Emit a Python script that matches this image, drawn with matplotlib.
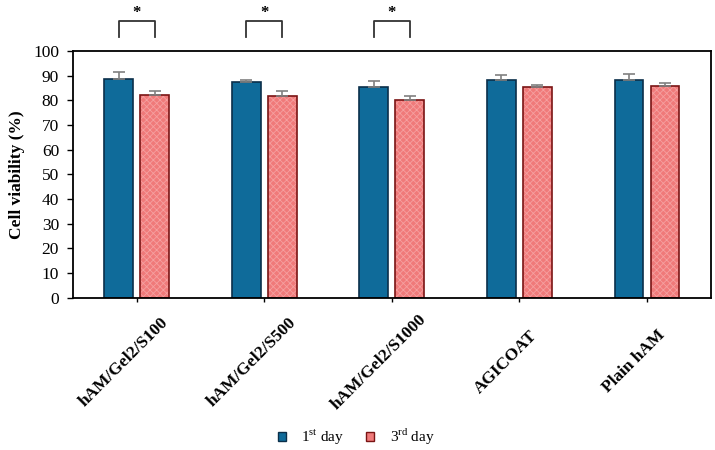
import matplotlib
matplotlib.use("Agg")
import matplotlib.pyplot as plt
import matplotlib.transforms as mtransforms
from matplotlib.patches import Patch
import numpy as np

categories = ["hAM/Gel2/S100", "hAM/Gel2/S500", "hAM/Gel2/S1000", "AGICOAT", "Plain hAM"]
day1 = [88.5, 87.3, 85.4, 88.1, 88.3]
day1_err = [3.1, 1.0, 2.4, 2.1, 2.4]
day3 = [82.1, 81.9, 80.2, 85.4, 85.8]
day3_err = [1.5, 1.9, 1.5, 0.7, 1.0]
sig_pairs = [0, 1, 2]

plt.rcParams['font.family'] = ['Liberation Serif', 'DejaVu Serif']
plt.rcParams['mathtext.fontset'] = 'custom'
plt.rcParams['mathtext.rm'] = 'Liberation Serif'
plt.rcParams['hatch.linewidth'] = 0.6

fig = plt.figure(figsize=(7.15, 4.5), dpi=100)
ax = fig.add_axes([0.102, 0.338, 0.892, 0.549])

x = np.arange(len(categories))
w = 0.225
off = 0.141
blue = '#0f6b9a'
red = '#f07a7a'

ax.bar(x - off, day1, w, color=blue, edgecolor='#0b2f4a', linewidth=1.2, zorder=2)
ax.errorbar(x - off, day1, yerr=[np.zeros(5), day1_err], fmt='none', ecolor='#808080',
            capsize=4, elinewidth=1.2, capthick=1.2, zorder=3)
ax.bar(x + off, day3, w, color=red, edgecolor='#f5a0a0', hatch='xxxxx', linewidth=0, zorder=2)
ax.bar(x + off, day3, w, fill=False, edgecolor='#7a1414', linewidth=1.2, zorder=2)
ax.errorbar(x + off, day3, yerr=[np.zeros(5), day3_err], fmt='none', ecolor='#808080',
            capsize=4, elinewidth=1.2, capthick=1.2, zorder=3)

ax.set_xlim(-0.5, len(categories) - 0.5)
ax.set_ylim(0, 100)
ax.set_yticks(np.arange(0, 101, 10))
ax.tick_params(axis='y', labelsize=12.5, length=4, width=1, pad=6)
ax.set_xticks(x)
ax.set_xticklabels([])
ax.tick_params(axis='x', length=3, width=1)
for s in ax.spines.values():
    s.set_linewidth(1.3)
ax.set_ylabel("Cell viability (%)", fontsize=12.5, fontweight='bold', labelpad=6)

lab_trans = mtransforms.blended_transform_factory(ax.transData, ax.transAxes) + \
    mtransforms.ScaledTranslation(-13 / 100, -64 / 100, fig.dpi_scale_trans)
for i, c in enumerate(categories):
    ax.text(i, 0, c, transform=lab_trans, rotation=45, ha='center', va='center',
            rotation_mode='anchor', fontsize=12.5, fontweight='bold', clip_on=False)

for i in sig_pairs:
    x0, x1 = i - off, i + off
    y0, y1 = 105.5, 112.0
    ax.plot([x0, x0, x1, x1], [y0, y1, y1, y0], color='#333333', lw=1.3,
            clip_on=False, solid_joinstyle='round')
    ax.text(i, 115.5, "*", ha='center', va='center', fontsize=12, fontweight='bold',
            clip_on=False)

h1 = Patch(facecolor=blue, edgecolor='#0b2f4a', linewidth=1.0)
h2 = Patch(facecolor=red, edgecolor='#7a1414', linewidth=1.0)
fig.legend([h1, h2], ["1$^{\\mathrm{st}}$ day", "3$^{\\mathrm{rd}}$ day"], loc='center',
           ncol=2, frameon=False, fontsize=11, handlelength=0.55, handleheight=0.55,
           handletextpad=1.0, columnspacing=1.4, bbox_to_anchor=(0.498, 0.029))

fig.savefig("out.png", dpi=100)
